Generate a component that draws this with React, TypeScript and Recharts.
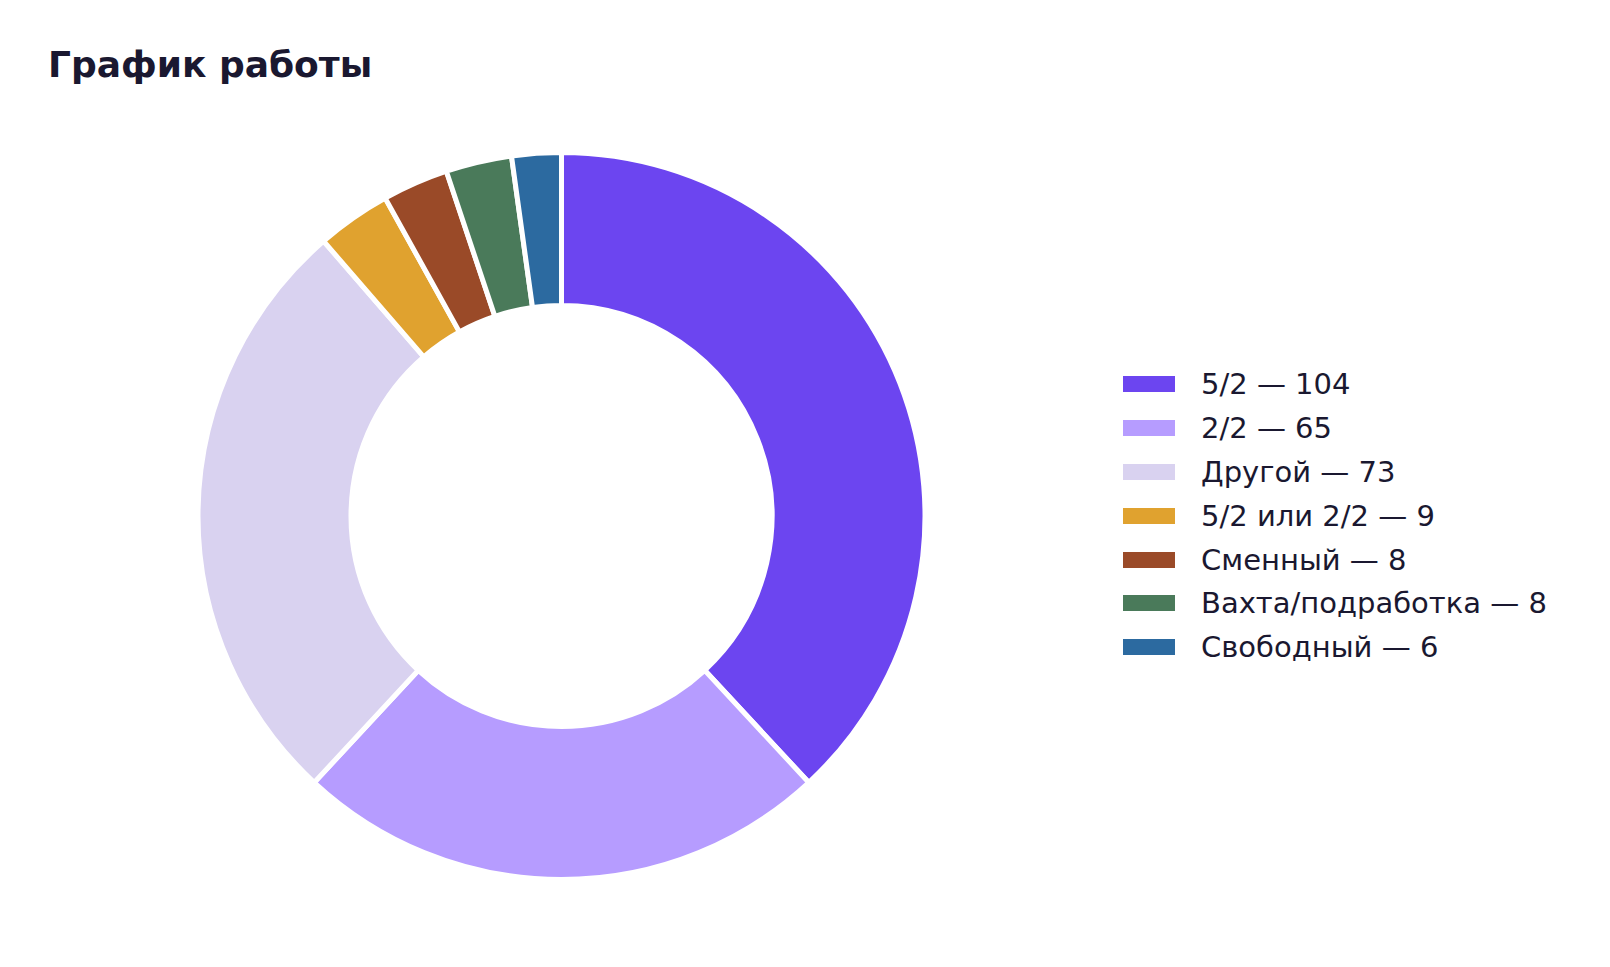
import { PieChart, Pie, Cell, Legend } from "recharts";

const categories = [
  "5/2",
  "2/2",
  "Другой",
  "5/2 или 2/2",
  "Сменный",
  "Вахта/подработка",
  "Свободный",
];
const counts = [104, 65, 73, 9, 8, 8, 6];
const colors = [
  "#6c45f0",
  "#b69cff",
  "#d9d2f0",
  "#e0a22f",
  "#9a4a28",
  "#4a7a5a",
  "#2c6aa0",
];

const data = categories.map((name, i) => ({ name, value: counts[i] }));

const FONT = "'DejaVu Sans', sans-serif";
const TEXT = "#1a1830";

function LegendList() {
  return (
    <div style={{ fontFamily: FONT }}>
      {data.map((d, i) => (
        <div
          key={d.name}
          style={{ display: "flex", alignItems: "center", height: 43.8 }}
        >
          <div
            style={{
              width: 52,
              height: 16,
              background: colors[i],
              marginRight: 26,
            }}
          />
          <span style={{ fontSize: 29, color: TEXT, whiteSpace: "nowrap" }}>
            {d.name} — {d.value}
          </span>
        </div>
      ))}
    </div>
  );
}

export default function App() {
  return (
    <div
      style={{
        position: "absolute",
        left: 0,
        top: 0,
        width: 1610,
        height: 967,
        background: "#fff",
      }}
    >
      <div
        style={{
          position: "absolute",
          left: 48,
          top: 42,
          fontFamily: FONT,
          fontWeight: "bold",
          fontSize: 36,
          color: TEXT,
          lineHeight: "46px",
          whiteSpace: "nowrap",
        }}
      >
        График работы
      </div>
      <PieChart width={1610} height={967} margin={{ top: 0, right: 0, bottom: 0, left: 0 }}>
        <Pie
          data={data}
          dataKey="value"
          nameKey="name"
          cx={561.5}
          cy={516}
          innerRadius={210.5}
          outerRadius={363.5}
          startAngle={90}
          endAngle={-270}
          stroke="#ffffff"
          strokeWidth={5}
          isAnimationActive={false}
        >
          {data.map((d, i) => (
            <Cell key={d.name} fill={colors[i]} />
          ))}
        </Pie>
        <Legend
          content={() => <LegendList />}
          wrapperStyle={{ position: "absolute", left: 1123, top: 362.5, width: 480 }}
        />
      </PieChart>
    </div>
  );
}
